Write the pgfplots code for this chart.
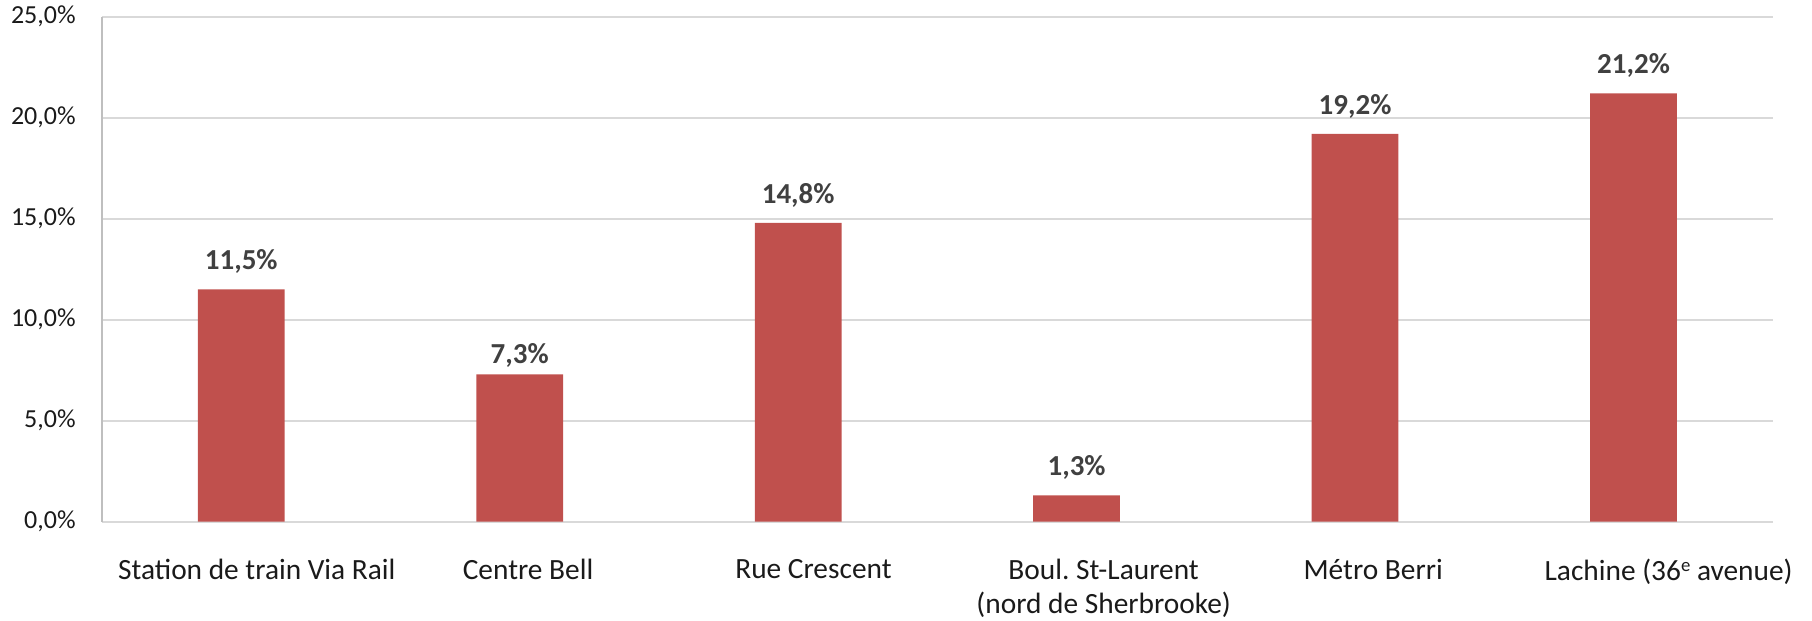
\documentclass[border=0pt]{standalone}
\usepackage{pgfplots}
\pgfplotsset{compat=1.18}
\usepackage{fontspec}
\setmainfont{Carlito}
\usetikzlibrary{calc}
\definecolor{barred}{HTML}{C0504D}
\definecolor{gridc}{HTML}{D9D9D9}
\definecolor{axisc}{HTML}{BFBFBF}
\definecolor{labc}{HTML}{404040}
\definecolor{txt}{HTML}{1A1A1A}
\frenchspacing
\begin{document}
\begin{tikzpicture}
\begin{axis}[
  name=ax,
  scale only axis,
  width=668.3pt, height=202pt,
  xmin=-0.5, xmax=5.5,
  ymin=0, ymax=25,
  axis lines*=left,
  x axis line style={draw=gridc, line width=0.8pt},
  y axis line style={draw=axisc, line width=1pt},
  ymajorgrids,
  grid style={draw=gridc, line width=0.8pt},
  major tick length=0pt,
  xtick={0.056,1.030,2.055,3.097,4.065,5.126},
  xticklabels={Station de train Via Rail, Centre Bell, Rue Crescent, {Boul.\ St-Laurent\\(nord de Sherbrooke)}, Métro Berri, {Lachine (36{\fontsize{7.5}{8}\selectfont\raisebox{3.6pt}{e}} avenue)}},
  xticklabel style={font=\fontsize{11.75}{13.4}\selectfont, text=txt, align=center, anchor=north, yshift=-11.5pt},
  ytick={0,5,10,15,20,25},
  yticklabels={{0,0\%},{5,0\%},{10,0\%},{15,0\%},{20,0\%},{25,0\%}},
  yticklabel style={font=\fontsize{10.4}{12}\selectfont, text=txt, xshift=-7pt},
  bar width=34.7pt,
  visualization depends on={value \thisrow{dy} \as \dy},
  nodes near coords={\pgfmathprintnumber[assume math mode=true,use comma,fixed,fixed zerofill,precision=1]{\pgfplotspointmeta}\%},
  every node near coord/.style={font=\bfseries\fontsize{11.6}{13}\selectfont, text=labc, anchor=base, yshift=\dy pt, inner sep=0pt},
  point meta=y,
  clip=false,
]
\addplot[ybar, fill=barred, draw=none] table[x=x, y=y] {
x y dy
0 11.5 7.8
1 7.3 4.4
2 14.8 7.8
3 1.3 7.8
4 19.2 7.8
5 21.2 7.8
};
\end{axis}
\pgfresetboundingbox
\path[use as bounding box] ($(ax.south west)+(-40.8pt,-39.7pt)$) rectangle ($(ax.north east)+(15.7pt,6.7pt)$);
\end{tikzpicture}
\end{document}
